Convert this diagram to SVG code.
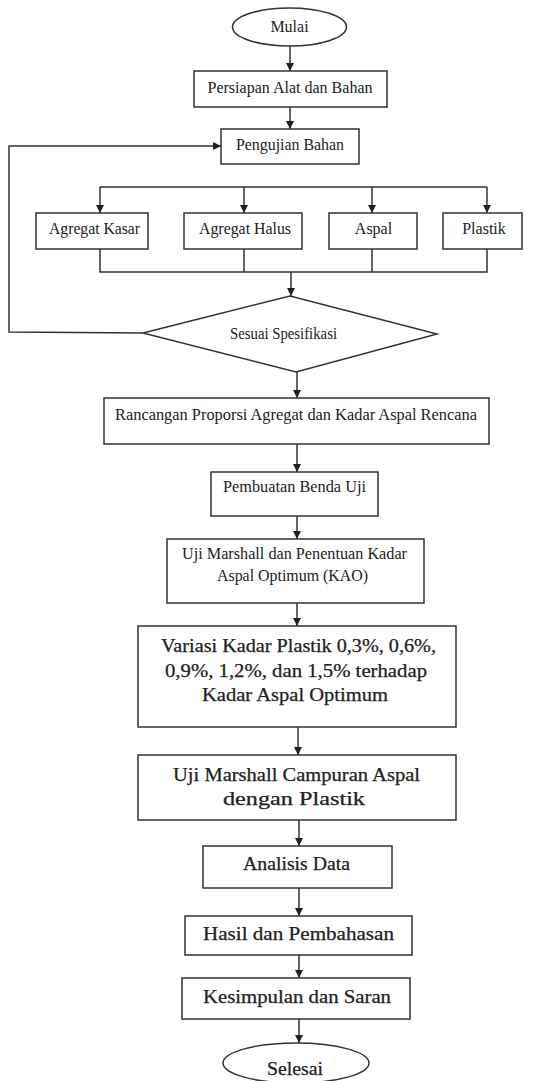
<svg xmlns="http://www.w3.org/2000/svg" width="533" height="1081" viewBox="0 0 533 1081">
<defs>
<marker id="arr" viewBox="0 0 10 10" refX="10" refY="5" markerWidth="8" markerHeight="8" markerUnits="userSpaceOnUse" orient="auto">
<path d="M0,0 L10,5 L0,10 Z" fill="#222"/>
</marker>
<style>
.box{fill:#fff;stroke:#333;stroke-width:1.5}
.ln{fill:none;stroke:#333;stroke-width:1.5}
.t{font-family:"Liberation Serif","Times New Roman",serif;font-size:16px;fill:#222;text-anchor:middle}
.b{font-family:"Liberation Serif","Times New Roman",serif;font-size:18px;fill:#222;stroke:#222;stroke-width:0.25;text-anchor:middle}
</style>
</defs>
<rect width="533" height="1081" fill="#fff"/>
<g id="connectors">
<line class="ln" x1="290" y1="46" x2="290" y2="71" marker-end="url(#arr)"/>
<line class="ln" x1="290" y1="107" x2="290" y2="129" marker-end="url(#arr)"/>
<line class="ln" x1="100" y1="187" x2="487" y2="187"/>
<line class="ln" x1="100" y1="187" x2="100" y2="213" marker-end="url(#arr)"/>
<line class="ln" x1="244" y1="187" x2="244" y2="213" marker-end="url(#arr)"/>
<line class="ln" x1="372" y1="187" x2="372" y2="213" marker-end="url(#arr)"/>
<line class="ln" x1="487" y1="187" x2="487" y2="213" marker-end="url(#arr)"/>
<polyline class="ln" points="100,249 100,272 487,272 487,249"/>
<line class="ln" x1="244" y1="249" x2="244" y2="272"/>
<line class="ln" x1="372" y1="249" x2="372" y2="272"/>
<line class="ln" x1="291" y1="272" x2="291" y2="296" marker-end="url(#arr)"/>
<polyline class="ln" points="143,333 9,332 9,146 221,146" marker-end="url(#arr)"/>
<line class="ln" x1="297" y1="372" x2="297" y2="398" marker-end="url(#arr)"/>
<line class="ln" x1="297" y1="444" x2="297" y2="472" marker-end="url(#arr)"/>
<line class="ln" x1="297" y1="516" x2="297" y2="539" marker-end="url(#arr)"/>
<line class="ln" x1="297" y1="603" x2="297" y2="626" marker-end="url(#arr)"/>
<line class="ln" x1="298" y1="727" x2="298" y2="755" marker-end="url(#arr)"/>
<line class="ln" x1="299" y1="820" x2="299" y2="846" marker-end="url(#arr)"/>
<line class="ln" x1="299" y1="888" x2="299" y2="916" marker-end="url(#arr)"/>
<line class="ln" x1="299" y1="955" x2="299" y2="978" marker-end="url(#arr)"/>
<line class="ln" x1="299" y1="1019" x2="299" y2="1043" marker-end="url(#arr)"/>
</g>
<g id="mulai">
<ellipse class="box" cx="289.5" cy="27" rx="57" ry="19"/>
<text class="t" x="289.5" y="32">Mulai</text>
</g>
<g id="persiapan">
<rect class="box" x="194" y="71" width="193" height="36"/>
<text class="t" x="290" y="93" textLength="165" lengthAdjust="spacingAndGlyphs">Persiapan Alat dan Bahan</text>
</g>
<g id="pengujian">
<rect class="box" x="221" y="129" width="138" height="35"/>
<text class="t" x="290" y="150" textLength="108" lengthAdjust="spacingAndGlyphs">Pengujian Bahan</text>
</g>
<g id="agregat-kasar">
<rect class="box" x="36" y="213" width="112" height="36"/>
<text class="t" x="94.5" y="234" textLength="91" lengthAdjust="spacingAndGlyphs">Agregat Kasar</text>
</g>
<g id="agregat-halus">
<rect class="box" x="184" y="213" width="118" height="36"/>
<text class="t" x="245" y="234" textLength="92" lengthAdjust="spacingAndGlyphs">Agregat Halus</text>
</g>
<g id="aspal">
<rect class="box" x="329" y="213" width="88" height="36"/>
<text class="t" x="373.5" y="234">Aspal</text>
</g>
<g id="plastik">
<rect class="box" x="443" y="213" width="79" height="36"/>
<text class="t" x="484" y="234">Plastik</text>
</g>
<g id="sesuai">
<polygon class="box" points="290,296 437,334 296,372 143,333"/>
<text class="t" x="283.5" y="339" textLength="107" lengthAdjust="spacingAndGlyphs">Sesuai Spesifikasi</text>
</g>
<g id="rancangan">
<rect class="box" x="104" y="398" width="385" height="46"/>
<text class="t" x="296" y="420" textLength="362" lengthAdjust="spacingAndGlyphs">Rancangan Proporsi Agregat dan Kadar Aspal Rencana</text>
</g>
<g id="pembuatan">
<rect class="box" x="211" y="472" width="167" height="44"/>
<text class="t" x="294.5" y="492" textLength="143" lengthAdjust="spacingAndGlyphs">Pembuatan Benda Uji</text>
</g>
<g id="uji-marshall">
<rect class="box" x="167" y="539" width="257" height="64"/>
<text class="t" x="294.5" y="559" textLength="225" lengthAdjust="spacingAndGlyphs">Uji Marshall dan Penentuan Kadar</text>
<text class="t" x="292.5" y="581" textLength="151" lengthAdjust="spacingAndGlyphs">Aspal Optimum (KAO)</text>
</g>
<g id="variasi">
<rect class="box" x="138" y="626" width="318" height="101"/>
<text class="b" x="298.5" y="652" textLength="275" lengthAdjust="spacingAndGlyphs">Variasi Kadar Plastik 0,3%, 0,6%,</text>
<text class="b" x="296" y="677" textLength="262" lengthAdjust="spacingAndGlyphs">0,9%, 1,2%, dan 1,5% terhadap</text>
<text class="b" x="295" y="701" textLength="186" lengthAdjust="spacingAndGlyphs">Kadar Aspal Optimum</text>
</g>
<g id="uji-campuran">
<rect class="box" x="138" y="755" width="318" height="65"/>
<text class="b" x="296.5" y="781" textLength="247" lengthAdjust="spacingAndGlyphs">Uji Marshall Campuran Aspal</text>
<text class="b" x="294" y="805" textLength="142" lengthAdjust="spacingAndGlyphs">dengan Plastik</text>
</g>
<g id="analisis">
<rect class="box" x="203" y="846" width="189" height="42"/>
<text class="b" x="296.5" y="870" textLength="107" lengthAdjust="spacingAndGlyphs">Analisis Data</text>
</g>
<g id="hasil">
<rect class="box" x="185" y="916" width="227" height="39"/>
<text class="b" x="298.5" y="940" textLength="191" lengthAdjust="spacingAndGlyphs">Hasil dan Pembahasan</text>
</g>
<g id="kesimpulan">
<rect class="box" x="182" y="978" width="228" height="41"/>
<text class="b" x="297" y="1003" textLength="188" lengthAdjust="spacingAndGlyphs">Kesimpulan dan Saran</text>
</g>
<g id="selesai">
<ellipse class="box" cx="296" cy="1063" rx="73" ry="20"/>
<text class="b" x="295" y="1075" textLength="56" lengthAdjust="spacingAndGlyphs">Selesai</text>
</g>
</svg>
